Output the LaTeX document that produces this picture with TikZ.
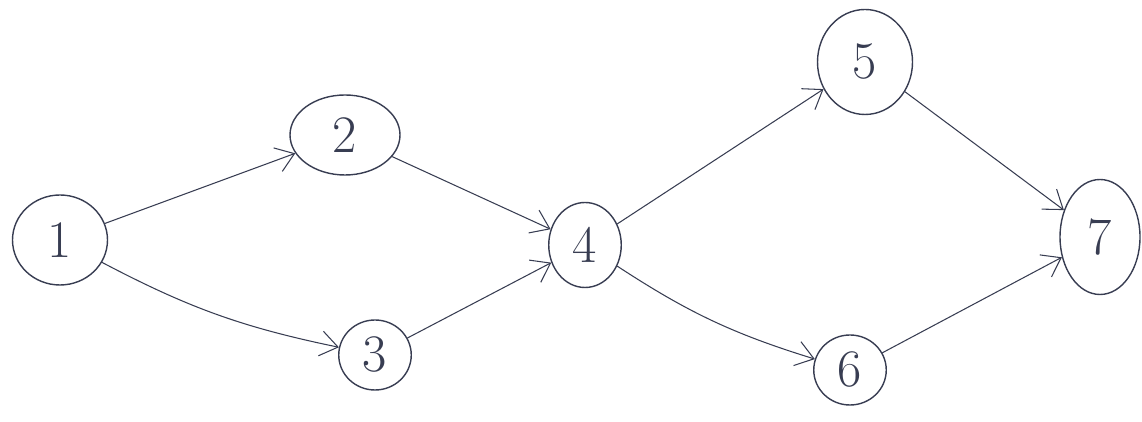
\documentclass[tikz,border=0pt]{standalone}
\usepackage{xcolor}
\usepackage{tikz}
\usetikzlibrary{arrows.meta, positioning, shapes.geometric}

\definecolor{ink}{rgb}{0.22,0.24,0.32}

\begin{document}
\begin{tikzpicture}[
    vertex/.style={draw=ink, ellipse, thick, inner sep=0pt, font=\fontsize{30}{34}\selectfont, text=ink},
    edge/.style={draw=ink, semithick, -{Straight Barb[length=3.5mm, width=5mm]}}
  ]
        \useasboundingbox (0,0) rectangle (22.84,8.44);
        % nodes
        \node[vertex, minimum width=1.9cm, minimum height=1.8cm] (n1) at (1.2, 3.64) {1};
        \node[vertex, minimum width=2.2cm, minimum height=1.6cm] (n2) at (6.9, 5.74) {2};
        \node[vertex, minimum width=1.45cm, minimum height=1.4cm] (n3) at (7.5, 1.34) {3};
        \node[vertex, minimum width=1.45cm, minimum height=1.7cm] (n4) at (11.7, 3.54) {4};
        \node[vertex, minimum width=1.9cm, minimum height=2.1cm] (n5) at (17.3, 7.2) {5};
        \node[vertex, minimum width=1.45cm, minimum height=1.4cm] (n6) at (17.0, 1.04) {6};
        \node[vertex, minimum width=1.6cm, minimum height=2.3cm] (n7) at (22.0, 3.7) {7};
        % edges
        \draw[edge] (n1) -- (n2);
        \draw[edge] (n1) to[bend right=8] (n3);
        \draw[edge] (n2) -- (n4);
        \draw[edge] (n3) -- (n4);
        \draw[edge] (n4) -- (n5);
        \draw[edge] (n4) to[bend right=8] (n6);
        \draw[edge] (n5) -- (n7);
        \draw[edge] (n6) -- (n7);
      \end{tikzpicture}
\end{document}
